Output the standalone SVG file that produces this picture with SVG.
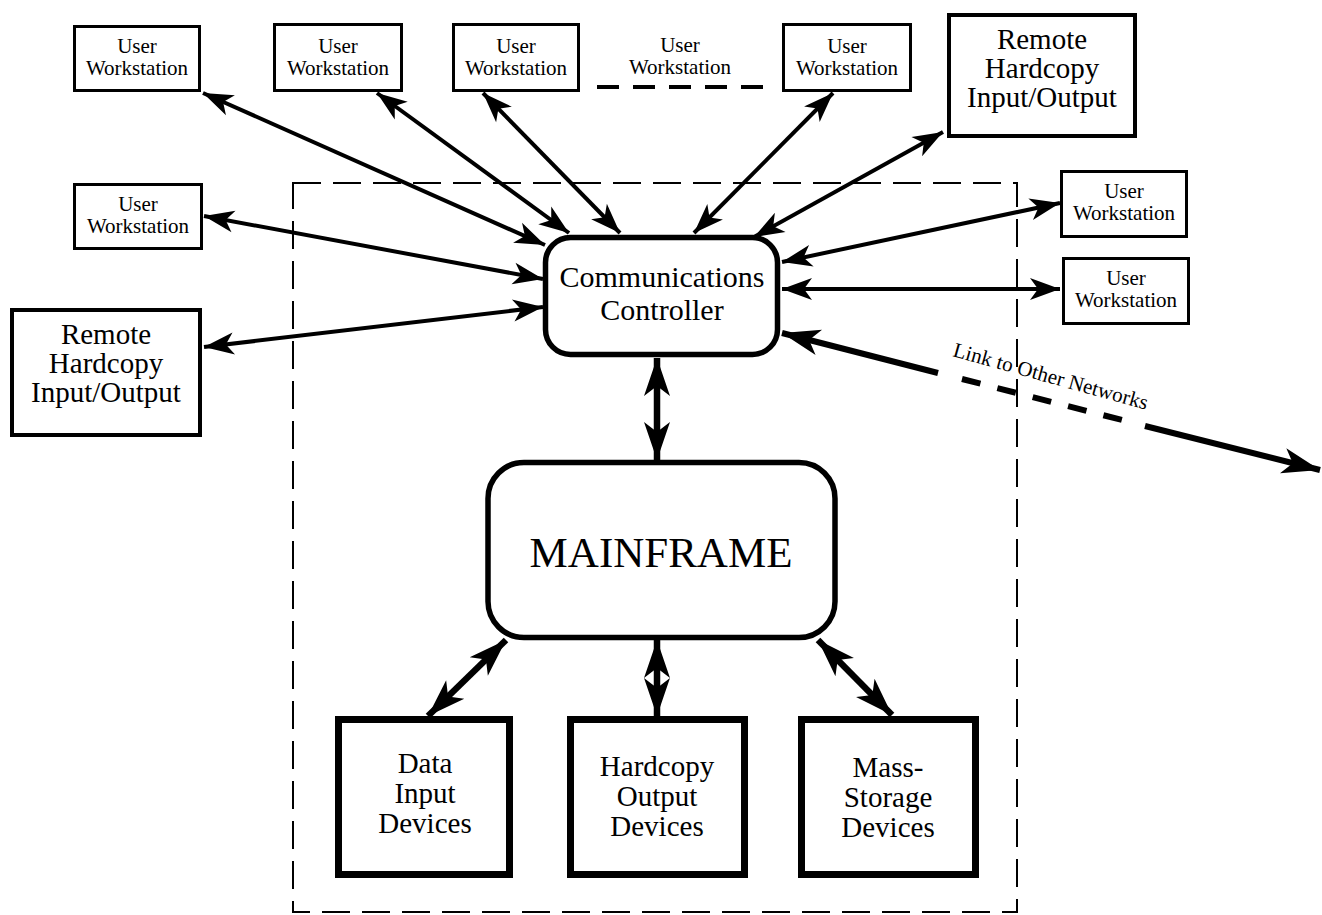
<svg xmlns="http://www.w3.org/2000/svg" width="1322" height="915" viewBox="0 0 1322 915">
  <style>
    text { font-family: "Liberation Serif", "Times New Roman", serif; fill: #000; text-anchor: middle; }
    .ws rect { fill: #fff; stroke: #000; stroke-width: 3; }
    .ws text { font-size: 21px; }
    .rh rect { fill: #fff; stroke: #000; stroke-width: 4; }
    .rh text { font-size: 29px; }
    .dev rect { fill: #fff; stroke: #000; stroke-width: 7; }
    .dev text { font-size: 29px; }
    .hub rect { fill: #fff; stroke: #000; stroke-width: 5.5; }
    .frame { fill: none; stroke: #000; stroke-width: 2; stroke-dasharray: 28 12; }
    .thin { fill: none; stroke: #000; stroke-width: 4; marker-start: url(#ah); marker-end: url(#ah); }
    .bold { fill: none; stroke: #000; stroke-width: 6.5; marker-start: url(#ahb); marker-end: url(#ahb); }
    .link { fill: none; stroke: #000; stroke-width: 6; }
  </style>
  <defs>
    <marker id="ah" markerUnits="userSpaceOnUse" orient="auto-start-reverse" refX="30" refY="11" markerWidth="32" markerHeight="24" overflow="visible">
      <path d="M30,11 L0,0 L8,11 L0,22 Z" fill="#000"/>
    </marker>
    <marker id="ahb" markerUnits="userSpaceOnUse" orient="auto-start-reverse" refX="38" refY="13" markerWidth="40" markerHeight="28" overflow="visible">
      <path d="M38,13 L0,0 L10,13 L0,26 Z" fill="#000"/>
    </marker>
  </defs>

  <!-- host site boundary -->
  <rect class="frame" x="293" y="183" width="724" height="729"/>

  <!-- terminals around the controller -->
  <g id="ws-top-1" class="ws">
    <rect x="74.5" y="26.5" width="125" height="64"/>
    <text x="137" y="53">User</text>
    <text x="137" y="75">Workstation</text>
  </g>
  <g id="ws-top-2" class="ws">
    <rect x="274.5" y="24.5" width="127" height="66"/>
    <text x="338" y="53">User</text>
    <text x="338" y="75">Workstation</text>
  </g>
  <g id="ws-top-3" class="ws">
    <rect x="453.5" y="24.5" width="125" height="66"/>
    <text x="516" y="53">User</text>
    <text x="516" y="75">Workstation</text>
  </g>
  <g id="ws-more" class="ws">
    <text x="680" y="52">User</text>
    <text x="680" y="74">Workstation</text>
    <path d="M597,87 L763,87" fill="none" stroke="#000" stroke-width="4" stroke-dasharray="22 14"/>
  </g>
  <g id="ws-top-5" class="ws">
    <rect x="783.5" y="24.5" width="127" height="66"/>
    <text x="847" y="53">User</text>
    <text x="847" y="75">Workstation</text>
  </g>
  <g id="remote-hc-right" class="rh">
    <rect x="949" y="15" width="186" height="121"/>
    <text x="1042" y="49">Remote</text>
    <text x="1042" y="78">Hardcopy</text>
    <text x="1042" y="107">Input/Output</text>
  </g>
  <g id="ws-left" class="ws">
    <rect x="74.5" y="184.5" width="127" height="64"/>
    <text x="138" y="211">User</text>
    <text x="138" y="233">Workstation</text>
  </g>
  <g id="remote-hc-left" class="rh">
    <rect x="12" y="310" width="188" height="125"/>
    <text x="106" y="344">Remote</text>
    <text x="106" y="373">Hardcopy</text>
    <text x="106" y="402">Input/Output</text>
  </g>
  <g id="ws-right-1" class="ws">
    <rect x="1061.5" y="171.5" width="125" height="65"/>
    <text x="1124" y="198">User</text>
    <text x="1124" y="220">Workstation</text>
  </g>
  <g id="ws-right-2" class="ws">
    <rect x="1063.5" y="258.5" width="125" height="65"/>
    <text x="1126" y="285">User</text>
    <text x="1126" y="307">Workstation</text>
  </g>

  <!-- central equipment -->
  <g id="comm-controller" class="hub">
    <rect x="545.5" y="237.5" width="232" height="117" rx="25"/>
    <text x="662" y="287" font-size="30">Communications</text>
    <text x="662" y="320" font-size="30">Controller</text>
  </g>
  <g id="mainframe" class="hub">
    <rect x="488" y="462.5" width="347" height="175" rx="36"/>
    <text x="661" y="567" font-size="43">MAINFRAME</text>
  </g>
  <g id="data-input" class="dev">
    <rect x="338.5" y="719.5" width="171" height="155"/>
    <text x="425" y="773">Data</text>
    <text x="425" y="803">Input</text>
    <text x="425" y="833">Devices</text>
  </g>
  <g id="hardcopy-output" class="dev">
    <rect x="570.5" y="719.5" width="174" height="155"/>
    <text x="657" y="776">Hardcopy</text>
    <text x="657" y="806">Output</text>
    <text x="657" y="836">Devices</text>
  </g>
  <g id="mass-storage" class="dev">
    <rect x="801.5" y="719.5" width="174" height="155"/>
    <text x="888" y="777">Mass-</text>
    <text x="888" y="807">Storage</text>
    <text x="888" y="837">Devices</text>
  </g>

  <!-- links -->
  <g id="connectors">
    <path class="thin" d="M203,93 L545,245"/>
    <path class="thin" d="M377,93 L569,233"/>
    <path class="thin" d="M483,93 L620,233"/>
    <path class="thin" d="M833,93 L694,233"/>
    <path class="thin" d="M943,132 L754,237"/>
    <path class="thin" d="M204,216 L543,279"/>
    <path class="thin" d="M204,347 L543,307"/>
    <path class="thin" d="M1060,203 L782,262"/>
    <path class="thin" d="M782,289 L1060,289"/>

    <path class="bold" d="M657,358 L657,460"/>
    <path class="bold" d="M506,640 L428,716"/>
    <path class="bold" d="M657,640 L657,716"/>
    <path class="bold" d="M818,640 L892,715"/>

    <!-- outside network link: solid, broken, solid -->
    <path class="link" d="M782,333 L938,373" marker-start="url(#ahb)"/>
    <path class="link" d="M962,379 L1122,420" stroke-dasharray="19 17.5"/>
    <path class="link" d="M1145,426 L1320,470" marker-end="url(#ahb)"/>
    <text transform="translate(952,356) rotate(15.5)" x="0" y="0" font-size="21" style="text-anchor:start">Link to Other Networks</text>
  </g>
</svg>
